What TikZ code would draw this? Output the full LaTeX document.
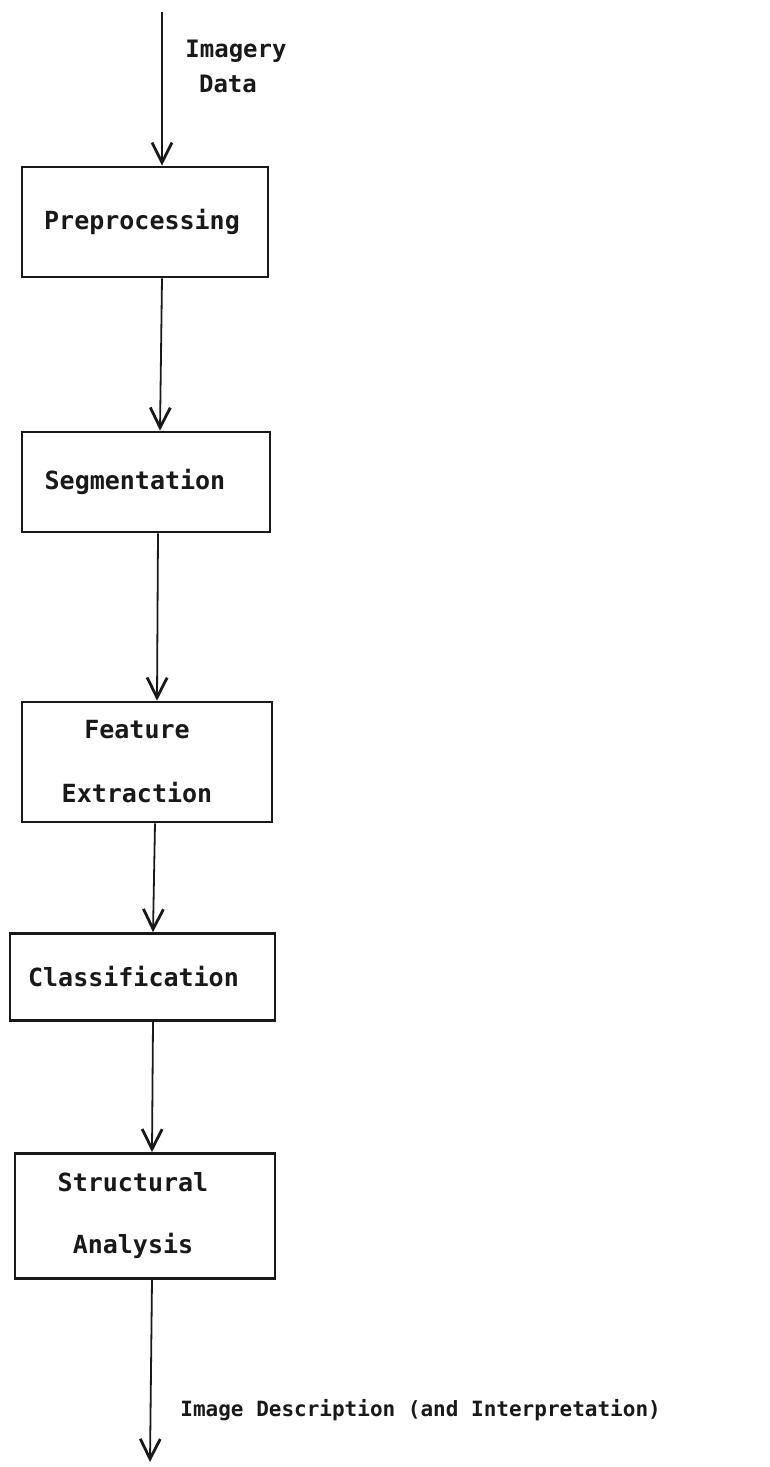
\documentclass[tikz,border=0pt]{standalone}
\usepackage{fontspec}
\newfontfamily\typewriter{DejaVu Sans Mono}
\usetikzlibrary{arrows.meta,positioning}
\tikzset{stage/.style={
    % The shape:
    rectangle,
    % The border:
    line width=1.3pt,
    draw=black!90,
    % Font
    font=\typewriter\bfseries\fontsize{12.5}{15}\selectfont,
    text=black!90,
    align=center
    },
    flow/.style={
    -{Straight Barb[length=10pt,width=10pt,line width=1.4pt]},
    line width=0.9pt,
    draw=black!90
    },
    caption/.style={
    font=\typewriter\bfseries\fontsize{12}{17.5}\selectfont,
    text=black!90,
    inner sep=0pt
    },
}

\begin{document}
\begin{tikzpicture}[x=0.5pt,y=-0.5pt]
    \useasboundingbox (0,0) rectangle (770,1467);

    \node (pre)  [stage,minimum width=123pt,minimum height=55pt]   at (145,222)    {Preprocessing\kern3pt};
    \node (seg)  [stage,minimum width=124pt,minimum height=50pt]   at (146,482)    {Segmentation\kern11pt};
    \node (feat) [stage,minimum width=125pt,minimum height=60pt]   at (147,762)    {Feature\kern10pt\\[17pt]Extraction\kern10pt};
    \node (cls)  [stage,minimum width=132.5pt,minimum height=43.5pt] at (142.5,977) {Classification\kern9pt};
    \node (str)  [stage,minimum width=130pt,minimum height=62.5pt] at (145,1216)   {Structural\kern12pt\\[16pt]Analysis\kern12pt};

    \coordinate (in)  at (162,12);
    \coordinate (out) at (150,1462);

    \node (data) [caption,align=center] at (236,66) {Imagery\\Data\kern8pt};
    \node (desc) [caption,anchor=west,font=\typewriter\bfseries\fontsize{10.5}{12}\selectfont] at (180,1410)
        {Image Description (and Interpretation)};

    \draw[flow] (in) -- (in |- pre.north);
    \draw[flow] ([xshift=8.5pt]pre.south) -- ([xshift=7pt]seg.north);
    \draw[flow] ([xshift=6pt]seg.south) -- ([xshift=5pt]feat.north);
    \draw[flow] ([xshift=4pt]feat.south) -- ([xshift=5.25pt]cls.north);
    \draw[flow] ([xshift=5.25pt]cls.south) -- ([xshift=3.5pt]str.north);
    \draw[flow] ([xshift=3.5pt]str.south) -- (out);
\end{tikzpicture}
\end{document}
